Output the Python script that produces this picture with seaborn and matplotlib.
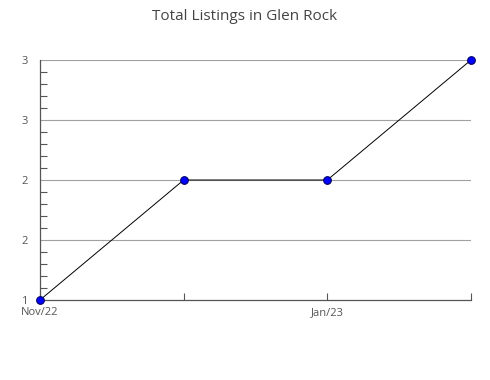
import matplotlib
matplotlib.use("Agg")
import matplotlib.pyplot as plt
import seaborn as sns
import pandas as pd
from matplotlib.ticker import MultipleLocator

months = ["Nov/22", "Dec/22", "Jan/23", "Feb/23"]
listings = [1, 2, 2, 3]
ytick_vals = [1, 1.5, 2, 2.5, 3]
ytick_labels = ["1", "2", "2", "3", "3"]
xtick_labels = ["Nov/22", "", "Jan/23", ""]

sns.set_style("white")
plt.rcParams["font.family"] = ["Open Sans", "DejaVu Sans"]

df = pd.DataFrame({"x": range(len(months)), "y": listings})

fig = plt.figure(figsize=(4.9, 3.8), dpi=100)
ax = fig.add_axes([40/490, 80/380, 431/490, 240/380])

sns.lineplot(data=df, x="x", y="y", ax=ax, color="black", linewidth=0.7,
             marker="o", markersize=5.5, markerfacecolor="#0000ff",
             markeredgecolor="#000066", markeredgewidth=0.8, zorder=3, clip_on=False)

ax.set_xlim(0, len(months) - 1)
ax.set_ylim(1, 3)
ax.set_yticks(ytick_vals)
ax.set_yticklabels(ytick_labels)
ax.yaxis.set_minor_locator(MultipleLocator(0.1))
ax.set_xticks(range(len(months)))
ax.set_xticklabels(xtick_labels)
ax.set_xlabel("")
ax.set_ylabel("")

for v in ytick_vals[1:]:
    ax.axhline(v, color="#a0a0a0", linewidth=0.8, zorder=1)

for s in ["top", "right"]:
    ax.spines[s].set_visible(False)
for s in ["left", "bottom"]:
    ax.spines[s].set_color("#555555")
    ax.spines[s].set_linewidth(0.9)

ax.tick_params(axis="y", which="major", direction="in", length=0, labelsize=8,
               labelcolor="#555555", pad=9)
ax.tick_params(axis="y", which="minor", direction="in", length=5, color="#555555", width=0.8, left=True)
ax.tick_params(axis="x", which="major", direction="in", length=5, color="#555555", width=0.8,
               labelsize=8, labelcolor="#555555", pad=5, bottom=True)

fig.text(0.5, 1 - 16/380, "Total Listings in Glen Rock", ha="center", va="center",
         fontsize=11, color="#444444")

fig.savefig("out.png", dpi=100)
